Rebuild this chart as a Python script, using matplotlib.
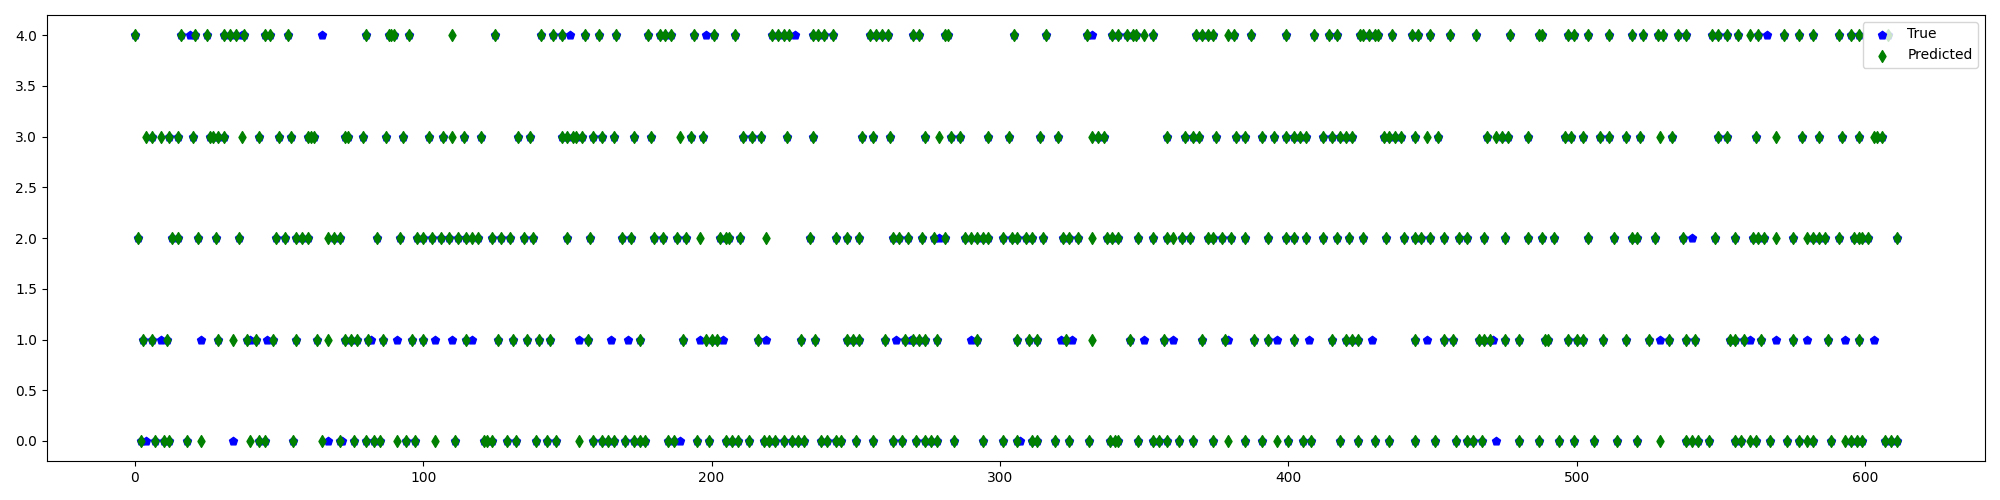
import matplotlib
matplotlib.use("Agg")
import matplotlib.pyplot as plt

# sample indices where the model predicted each class
pred_0 = [2, 7, 10, 12, 18, 23, 40, 43, 45, 55, 65, 71, 76, 80, 83, 85, 91, 94, 97, 104,
          111, 121, 122, 124, 129, 132, 139, 143, 146, 154, 159, 162, 164, 166, 170, 173,
          175, 177, 185, 187, 195, 199, 205, 207, 209, 213, 218, 220, 222, 225, 228, 230,
          232, 238, 240, 243, 245, 250, 256, 263, 266, 271, 274, 276, 278, 284, 294, 301,
          306, 311, 313, 319, 324, 331, 338, 340, 341, 348, 353, 355, 358, 362, 367, 374,
          379, 385, 391, 396, 400, 405, 408, 418, 424, 430, 435, 444, 451, 458, 462, 464,
          467, 480, 487, 494, 499, 506, 514, 521, 529, 538, 540, 542, 546, 555, 557, 560,
          562, 567, 573, 577, 580, 582, 588, 593, 595, 597, 599, 607, 609, 611]
pred_1 = [3, 6, 11, 29, 34, 39, 42, 48, 56, 63, 67, 73, 75, 77, 81, 86, 96, 100, 115, 126,
          131, 136, 140, 144, 157, 175, 190, 198, 200, 202, 216, 231, 236, 247, 249, 251,
          260, 267, 270, 272, 274, 278, 292, 306, 310, 313, 323, 332, 345, 357, 370, 378,
          388, 393, 402, 415, 420, 422, 424, 444, 454, 457, 466, 468, 470, 475, 480, 489,
          490, 497, 500, 502, 509, 517, 525, 532, 538, 541, 553, 555, 558, 564, 575, 587,
          598]
pred_2 = [1, 13, 15, 22, 28, 36, 49, 52, 56, 58, 60, 67, 69, 71, 84, 92, 98, 100, 103, 106,
          109, 112, 115, 117, 119, 124, 127, 130, 135, 138, 150, 158, 169, 172, 180, 183,
          188, 191, 196, 203, 205, 206, 210, 219, 234, 243, 247, 251, 263, 265, 268, 273,
          277, 281, 288, 290, 292, 294, 296, 301, 304, 306, 309, 311, 315, 322, 324, 327,
          332, 337, 339, 341, 348, 353, 358, 360, 363, 366, 372, 374, 377, 380, 385, 393,
          399, 402, 406, 412, 417, 421, 426, 434, 440, 444, 446, 449, 454, 459, 462, 468,
          475, 483, 488, 492, 504, 513, 519, 521, 527, 537, 548, 555, 561, 563, 565, 569,
          575, 580, 582, 584, 586, 591, 596, 598, 599, 601, 611]
pred_3 = [4, 6, 9, 12, 15, 20, 26, 27, 29, 31, 37, 43, 50, 54, 60, 61, 62, 73, 74, 79, 87,
          93, 102, 107, 110, 114, 120, 133, 137, 148, 150, 152, 153, 155, 159, 162, 166,
          173, 179, 189, 193, 197, 211, 214, 217, 226, 235, 252, 256, 262, 274, 279, 283,
          286, 296, 303, 314, 320, 332, 334, 336, 358, 364, 367, 369, 375, 382, 385, 391,
          395, 399, 402, 404, 406, 412, 415, 418, 420, 422, 433, 435, 437, 439, 444, 448,
          452, 469, 472, 474, 476, 483, 496, 498, 502, 508, 511, 517, 522, 529, 533, 549,
          552, 562, 569, 578, 584, 592, 598, 603, 604, 606]
pred_4 = [0, 16, 21, 25, 31, 33, 35, 38, 45, 47, 53, 80, 88, 89, 90, 95, 110, 125, 141, 145,
          148, 156, 161, 167, 178, 182, 184, 186, 194, 201, 208, 221, 223, 225, 227, 235,
          237, 239, 242, 255, 257, 259, 261, 270, 272, 281, 282, 305, 316, 330, 339, 341,
          344, 346, 347, 350, 353, 368, 370, 372, 374, 379, 381, 387, 399, 409, 414, 417,
          425, 426, 428, 430, 431, 436, 443, 445, 449, 456, 465, 477, 487, 488, 497, 499,
          504, 511, 519, 523, 528, 530, 535, 538, 547, 549, 552, 556, 560, 563, 572, 577,
          582, 591, 595, 598, 608]

# samples whose true class differs from the prediction (the visible blue marks)
true_0 = [4, 34, 67, 72, 189, 307, 472]
true_1 = [9, 23, 40, 46, 82, 91, 104, 110, 117, 154, 165, 171, 196, 204, 219, 264, 269,
          290, 321, 325, 350, 360, 379, 396, 407, 429, 448, 471, 529, 560, 569, 580, 593, 603]
true_2 = [279, 540]
true_4 = [19, 37, 65, 151, 198, 229, 332, 566]

pred_lists = [pred_0, pred_1, pred_2, pred_3, pred_4]
true_lists = [true_0, true_1, true_2, [], true_4]

pred_x, pred_y = [], []
for cls, idx in enumerate(pred_lists):
    pred_x += idx
    pred_y += [cls] * len(idx)

wrong = set(i for lst in true_lists for i in lst)
true_x = [x for x in pred_x if x not in wrong]
true_y = [y for x, y in zip(pred_x, pred_y) if x not in wrong]
for cls, idx in enumerate(true_lists):
    true_x += idx
    true_y += [cls] * len(idx)

fig, ax = plt.subplots(figsize=(20, 5), dpi=100)
ax.scatter(true_x, true_y, marker="p", color="blue", label="True")
ax.scatter(pred_x, pred_y, marker="d", color="green", label="Predicted")
ax.legend(loc="upper right")
plt.tight_layout()
plt.savefig("out.png")
